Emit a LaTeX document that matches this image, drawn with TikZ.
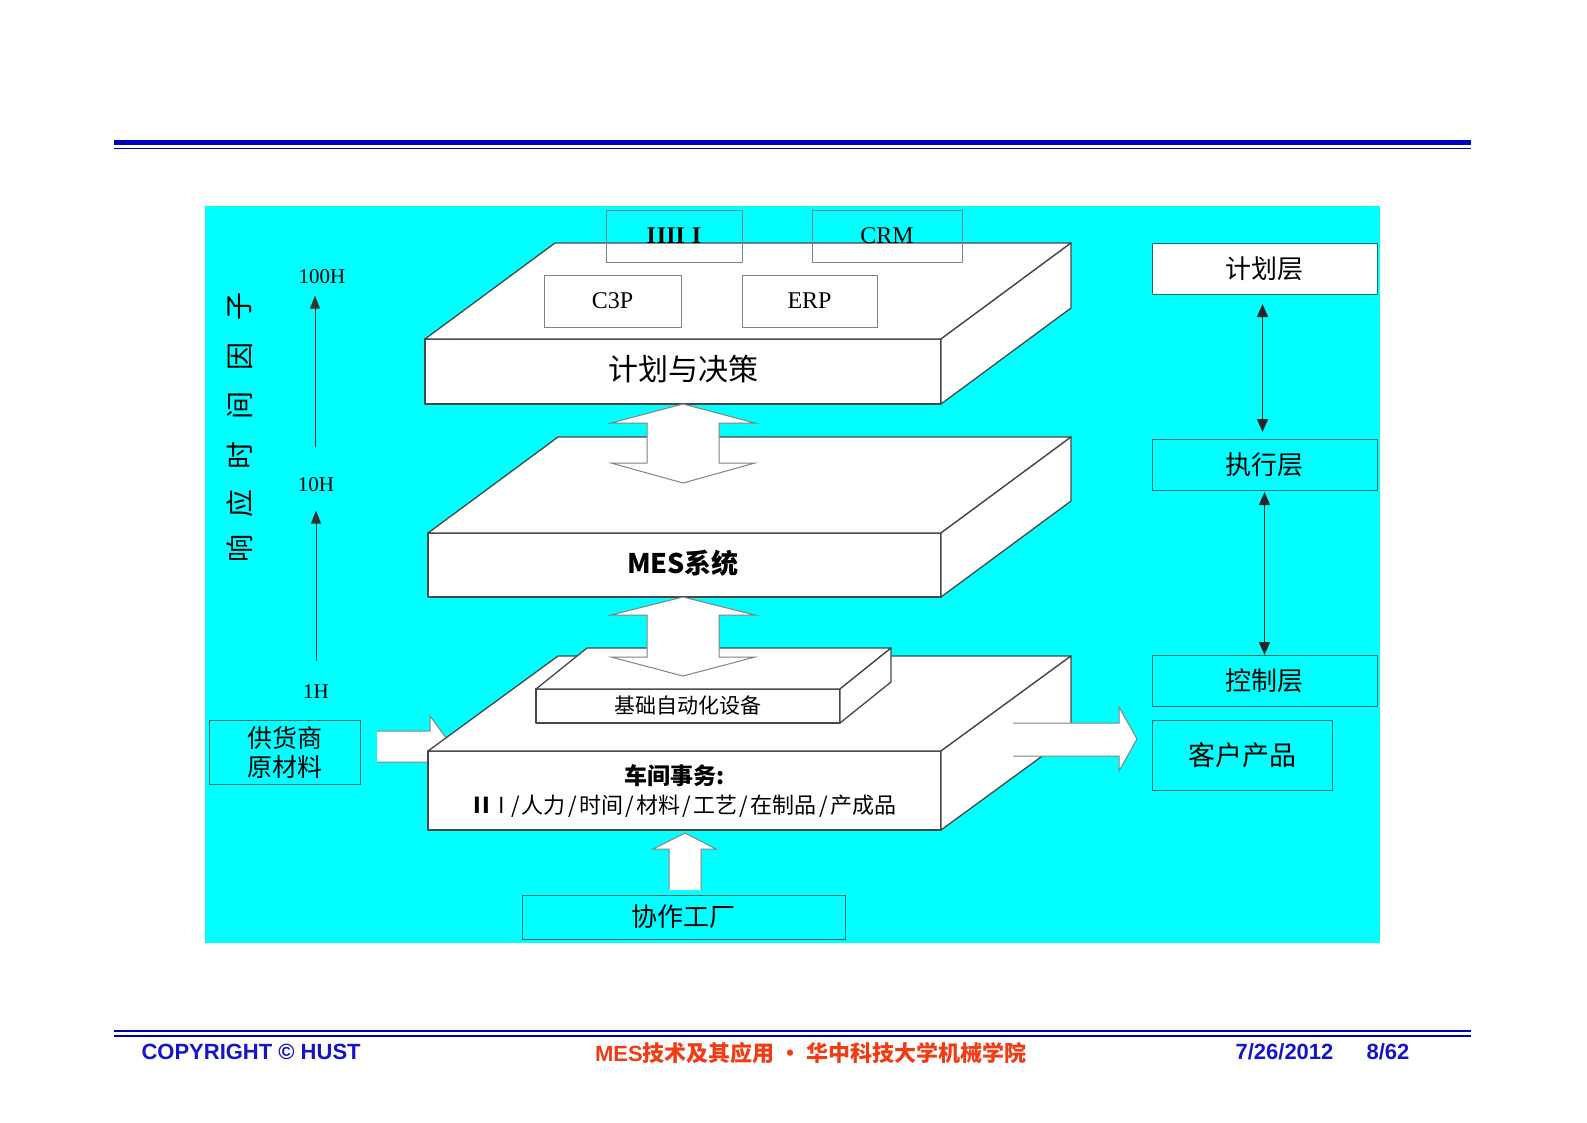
\documentclass[tikz,border=0pt]{standalone}
\usepackage{fontspec}
\setmainfont{Liberation Serif}
\newfontfamily\cjk{Noto Sans CJK SC}
\newfontfamily\arialf{Liberation Sans}
\usetikzlibrary{arrows.meta}
\definecolor{bgcyan}{RGB}{0,255,255}
\definecolor{hdrblue}{RGB}{0,0,190}
\definecolor{ftblue}{RGB}{20,20,200}
\definecolor{ftred}{RGB}{240,60,20}
\definecolor{edgegray}{RGB}{70,70,70}
\definecolor{boxgray}{RGB}{130,130,130}
\definecolor{layedge}{RGB}{30,110,110}
\newcommand\slsep{\kern2.3pt/\kern2.3pt}
\tikzset{
  face/.style={draw=edgegray, fill=white, line width=1.3pt, line join=round},
  front/.style={face, inner sep=0pt, outer sep=0pt, align=center},
  tbox/.style={draw=boxgray, line width=1pt, inner sep=0pt, outer sep=0pt},
  lay/.style={draw=layedge, line width=1pt, inner sep=0pt, outer sep=0pt, align=center},
  fat/.style={fill=white, draw=boxgray, line width=1pt, line join=miter},
  axarrow/.style={draw=black!80, line width=1pt, -{Triangle[length=13pt,width=10pt]}},
  lyarrow/.style={draw=black!85, line width=1.5pt, {Triangle[length=13pt,width=11pt]}-{Triangle[length=13pt,width=11pt]}},
  zh/.style={font=\cjk\fontsize{#1}{#1}\selectfont},
  zhb/.style={font=\cjk\bfseries\fontsize{#1}{#1}\selectfont},
  lat/.style={font=\fontsize{#1}{#1}\selectfont},
}
\begin{document}
\begin{tikzpicture}[x=1pt,y=-1pt]
\useasboundingbox (0,0) rectangle (1587,1122);
\fill[white] (0,0) rectangle (1587,1122);
% header lines
\fill[hdrblue] (114,139.5) rectangle (1471,144.5);
\fill[hdrblue] (114,147.5) rectangle (1471,149.3);
% cyan panel
\fill[bgcyan] (205,206) rectangle (1380,943);

% supplier box and arrow
\node[lay, zh=25, minimum width=151pt, minimum height=64pt, fill=bgcyan] (supp) at (284.5,752) {供货商\\[4pt]原材料};
\fill[white] (377,731) -- (430,731) -- (430,716) -- (452,746) -- (430,777) -- (430,762) -- (377,762);
\draw[boxgray, line width=1pt] (377,731) -- (430,731) -- (430,716) -- (452,746) -- (430,777) -- (430,762) -- (377,762);

% bottom slab (shop floor)
\node[front, minimum width=513pt, minimum height=79pt] (shop) at (684.5,790.5) {};
\draw[face] (shop.north west) -- ++(130,-95) -- ++(513,0) -- (shop.north east) -- cycle;
\draw[face] (shop.north east) -- ++(130,-95) -- ++(0,79) -- (shop.south east) -- cycle;
\node[zhb=23, anchor=center] (shopt1) at (675,776) {车间事务:};
\node[zh=22, anchor=center] (shopt2) at (685,806) {{\bfseries I\kern1pt I}\kern8pt I\kern4pt\slsep 人力\slsep 时间\slsep 材料\slsep 工艺\slsep 在制品\slsep 产成品};

% arrow to customer product
\fill[white] (1013,723) -- (1119,723) -- (1119,707) -- (1137,739) -- (1119,771) -- (1119,756) -- (1013,756);
\draw[boxgray, line width=1pt] (1013,723) -- (1119,723) -- (1119,707) -- (1137,739) -- (1119,771) -- (1119,756) -- (1013,756);

% small slab (basic automation)
\node[front, zh=21, minimum width=304pt, minimum height=34pt] (auto) at (688,706) {基础自动化设备};
\draw[face] (auto.north west) -- ++(51,-41) -- ++(304,0) -- (auto.north east) -- cycle;
\draw[face] (auto.north east) -- ++(51,-41) -- ++(0,34) -- (auto.south east) -- cycle;

% middle slab (MES)
\node[front, minimum width=513pt, minimum height=64pt] (mes) at (684.5,565) {};
\draw[face] (mes.north west) -- ++(130,-96) -- ++(513,0) -- (mes.north east) -- cycle;
\draw[face] (mes.north east) -- ++(130,-96) -- ++(0,64) -- (mes.south east) -- cycle;
\node[zhb=27] (mest) at (683,563) {MES系统};

% double arrow MES <-> automation
\draw[fat] ([xshift=-1.5pt]mes.south) -- ++(72,18) -- ++(-36,0) -- ++(0,42) -- ++(36,0) -- ++(-72,19) -- ++(-72,-19) -- ++(36,0) -- ++(0,-42) -- ++(-36,0) -- cycle;

% top slab (planning)
\node[front, minimum width=516pt, minimum height=65pt] (plan) at (683,371.5) {};
\draw[face] (plan.north west) -- ++(130,-96) -- ++(516,0) -- (plan.north east) -- cycle;
\draw[face] (plan.north east) -- ++(130,-96) -- ++(0,65) -- (plan.south east) -- cycle;
\node[zh=30] (plant) at (683,369) {计划与决策};

% double arrow planning <-> MES
\draw[fat] (plan.south) -- ++(72,19) -- ++(-36,0) -- ++(0,40) -- ++(36,0) -- ++(-72,20) -- ++(-72,-20) -- ++(36,0) -- ++(0,-40) -- ++(-36,0) -- cycle;

% boxes on top slab
\node[tbox, minimum width=136pt, minimum height=52pt] (pdm) at (674,236) {\fontsize{24}{24}\selectfont\bfseries I\kern1ptIII\kern7ptI};
\node[tbox, lat=24, minimum width=150pt, minimum height=52pt] (crm) at (887,236) {CRM};
\node[tbox, lat=24, minimum width=137pt, minimum height=52pt] (c3p) at (612.5,301) {C3P};
\node[tbox, lat=24, minimum width=135pt, minimum height=52pt] (erp) at (809.5,301) {ERP};

% right column
\node[lay, zh=26, fill=white, minimum width=225pt, minimum height=51pt] (L1) at (1264.5,268.5) {计划层};
\node[lay, zh=26, fill=bgcyan, minimum width=225pt, minimum height=51pt] (L2) at (1264.5,464.5) {执行层};
\node[lay, zh=26, fill=bgcyan, minimum width=225pt, minimum height=51pt] (L3) at (1264.5,680.5) {控制层};
\node[lay, zh=27, fill=bgcyan, minimum width=180pt, minimum height=70pt] (cust) at (1242,755) {客户产品};
\draw[lyarrow] ([xshift=-2pt,yshift=-10pt]L1.south) -- ([xshift=-2pt,yshift=7pt]L2.north);
\draw[lyarrow] ([yshift=-2pt]L2.south) -- (L3.north);

% cooperating factory
\node[lay, zh=26, fill=bgcyan, minimum width=323pt, minimum height=44pt] (coop) at (683.5,917) {协作工厂};
\fill[white] (701,890) -- (701,849) -- (716,849) -- (685,833) -- (653,849) -- (669,849) -- (669,890);
\draw[boxgray, line width=1pt] (701,890) -- (701,849) -- (716,849) -- (685,833) -- (653,849) -- (669,849) -- (669,890);

% response time axis
\node[lat=21] (h1) at (316,692) {1H};
\node[lat=21] (h10) at (316,485) {10H};
\node[lat=21] (h100) at (322,277) {100H};
\draw[axarrow] ([yshift=21pt]h1.north) -- ([yshift=-15pt]h10.south);
\draw[axarrow] ([xshift=-1pt,yshift=27pt]h10.north) -- ([xshift=-7pt,yshift=-8pt]h100.south);
\foreach \c/\yy [count=\i] in {子/306,因/356,间/405,时/455,应/503,响/548}
  \node[zh=28, rotate=90] (v\i) at (240,\yy) {\c};

% footer
\fill[hdrblue] (114,1030.2) rectangle (1471,1031.6);
\fill[hdrblue] (114,1034.5) rectangle (1471,1037);
\node[font=\arialf\bfseries\fontsize{22}{22}\selectfont, text=ftblue, anchor=west] (copy) at (138,1052) {COPYRIGHT © HUST};
\node[font=\cjk\bfseries\fontsize{22}{22}\selectfont, text=ftred] (title) at (811,1053) {{\arialf MES}技术及其应用 · 华中科技大学机械学院};
\node[font=\arialf\bfseries\fontsize{22}{22}\selectfont, text=ftblue] (date) at (1284.5,1052) {7/26/2012};
\node[font=\arialf\bfseries\fontsize{22}{22}\selectfont, text=ftblue] (page) at (1388,1052) {8/62};
\end{tikzpicture}
\end{document}
